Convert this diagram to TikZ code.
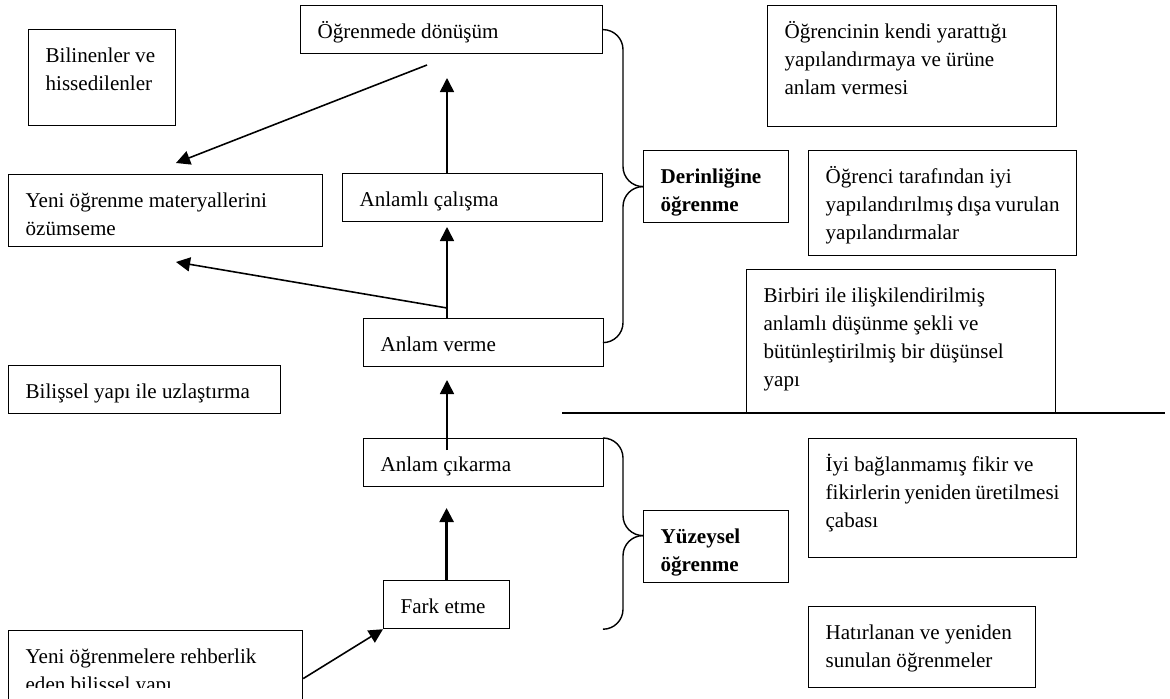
\documentclass[tikz,border=0pt]{standalone}
\usepackage{fontspec}
\setmainfont{Liberation Serif}
\usetikzlibrary{arrows.meta}
\tikzstyle{cbox} = [draw=black,line width=0.7pt,rectangle,anchor=north west,
  inner xsep=0.34cm,inner ysep=0pt,font=\fontsize{12}{16}\selectfont]
\tikzstyle{arr} = [line width=0.9pt,-{Triangle[length=8pt,width=8pt]}]
\tikzstyle{brc} = [line width=0.8pt,rounded corners=0.4cm]
\newcommand{\boxtxt}[3]{\begin{minipage}[t][#2][t]{#1}\vspace*{7.3pt}\strut #3\end{minipage}}

\begin{document}
\begin{tikzpicture}[x=0.02cm,y=-0.02cm]
  \useasboundingbox (0,0) rectangle (1170,699);
  % left column
  \node [cbox] (know) at (28,29) {\boxtxt{2.26cm}{1.92cm}{Bilinenler ve\\hissedilenler}};
  \node [cbox] (ozumseme) at (8,174) {\boxtxt{5.60cm}{1.44cm}{Yeni öğrenme materyallerini\\özümseme}};
  \node [cbox] (uzlastirma) at (8,365) {\boxtxt{4.76cm}{0.96cm}{Bilişsel yapı ile uzlaştırma}};
  \node [cbox] (rehber) at (8,630) {\boxtxt{5.20cm}{1.92cm}{}};
  \begin{scope}
    \clip (0,0) rectangle (1170,687);
    \node [cbox,draw=none] (rehbertxt) at (rehber.north west) {%
      \boxtxt{5.20cm}{1.92cm}{Yeni öğrenmelere rehberlik\\eden bilişsel yapı}};
  \end{scope}
  % middle column
  \node [cbox] (donusum) at (300,5) {\boxtxt{5.36cm}{0.96cm}{Öğrenmede dönüşüm}};
  \node [cbox] (calisma) at (342,173) {\boxtxt{4.52cm}{0.96cm}{Anlamlı çalışma}};
  \node [cbox] (verme) at (363,318) {\boxtxt{4.12cm}{0.96cm}{Anlam verme}};
  \node [cbox] (cikarma) at (363,438) {\boxtxt{4.12cm}{0.96cm}{Anlam çıkarma}};
  \node [cbox] (fark) at (383,580) {\boxtxt{1.84cm}{0.96cm}{Fark etme}};
  \node [cbox] (derin) at (643,150) {\boxtxt{2.22cm}{1.44cm}{\textbf{Derinliğine}\\\textbf{öğrenme}}};
  \node [cbox] (yuzey) at (643,510) {\boxtxt{2.22cm}{1.44cm}{\textbf{Yüzeysel}\\\textbf{öğrenme}}};
  % right column
  \node [cbox] (urun) at (767,5) {\boxtxt{5.10cm}{2.42cm}{Öğrencinin kendi yarattığı\\yapılandırmaya ve ürüne\\anlam vermesi}};
  \node [cbox] (disa) at (808,150) {\boxtxt{4.68cm}{2.10cm}{Öğrenci tarafından iyi\\yapılandırılmış dışa vurulan\\yapılandırmalar}};
  \node [cbox] (butun) at (746,269) {\boxtxt{5.50cm}{2.88cm}{Birbiri ile ilişkilendirilmiş\\anlamlı düşünme şekli ve\\bütünleştirilmiş bir düşünsel\\yapı}};
  \node [cbox] (fikir) at (808,438) {\boxtxt{4.68cm}{2.38cm}{İyi bağlanmamış fikir ve\\fikirlerin yeniden üretilmesi\\çabası}};
  \node [cbox] (hatir) at (808,606) {\boxtxt{3.86cm}{1.62cm}{Hatırlanan ve yeniden\\sunulan öğrenmeler}};
  % separator
  \draw [line width=0.9pt] (562,413) -- (1165,413);
  % arrows
  \coordinate (upA) at (447,78);
  \coordinate (upB) at (447,227);
  \coordinate (upC) at (447,380);
  \coordinate (upD) at (447,508);
  \coordinate (fork) at (447,308);
  \coordinate (c5s) at (447,450);
  \coordinate (a1s) at (427,65);
  \coordinate (a1e) at (176,163);
  \coordinate (a4e) at (176,262);
  \draw [arr] (a1s) -- (a1e);
  \draw [arr] (calisma.north -| upA) -- (upA);
  \draw [arr] (verme.north -| upB) -- (upB);
  \draw [arr] (fork) -- (a4e);
  \draw [arr] (c5s) -- (upC);
  \draw [arr,line width=1.4pt] (fark.north) -- (fark.north |- upD);
  \draw [arr] (rehber.east) -- (fark.south west);
  % braces
  \coordinate (tipD) at (derin.west);
  \coordinate (tipS) at ([yshift=0.22cm]yuzey.west);
  \draw [brc] (donusum.east) -| ([xshift=-0.4cm]tipD) -- (tipD);
  \draw [brc] (verme.east) -| ([xshift=-0.4cm]tipD) -- (tipD);
  \draw [brc] (cikarma.north east) -| ([xshift=-0.4cm]tipS) -- (tipS);
  \draw [brc] (cikarma.east |- fark.south) -| ([xshift=-0.4cm]tipS) -- (tipS);
\end{tikzpicture}
\end{document}
